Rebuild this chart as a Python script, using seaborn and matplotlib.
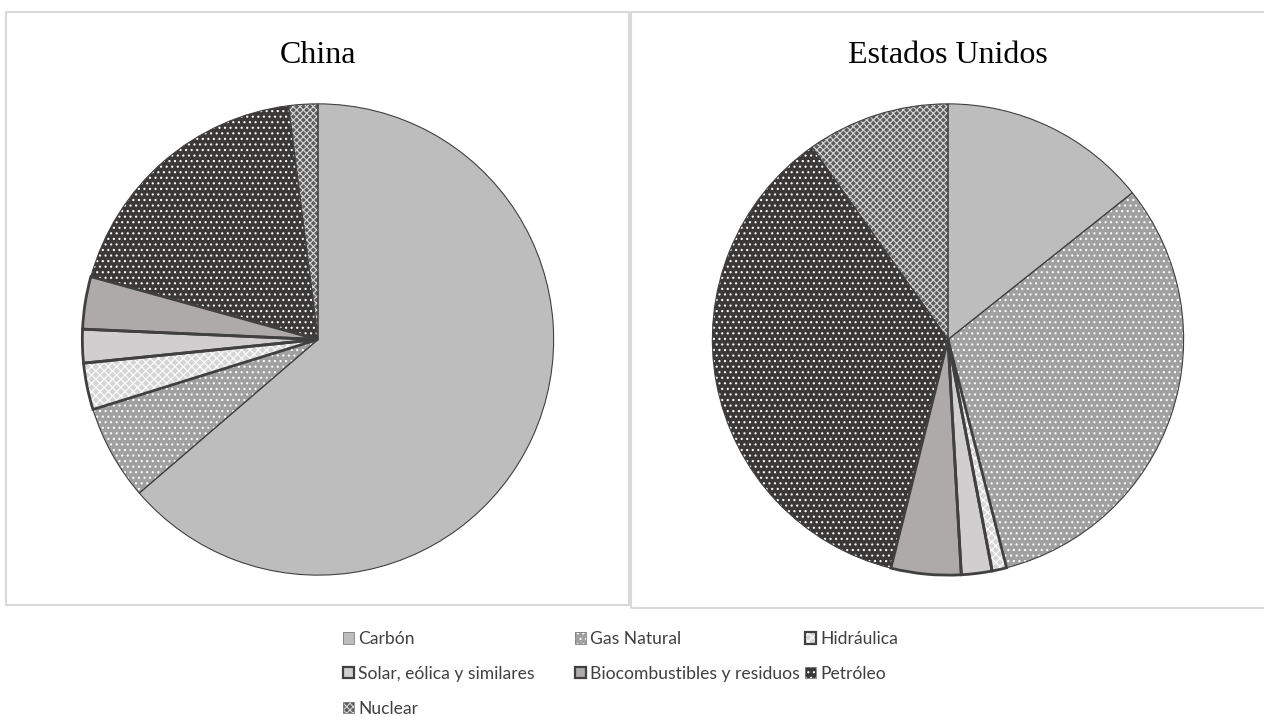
import matplotlib
matplotlib.use("Agg")
import matplotlib.pyplot as plt
from matplotlib.patches import Patch, Rectangle
from matplotlib.legend_handler import HandlerTuple
import seaborn as sns

# ---- data ----
categories = ["Carbón", "Gas Natural", "Hidráulica", "Solar, eólica y similares",
              "Biocombustibles y residuos", "Petróleo", "Nuclear"]
china_values = [63.7, 6.5, 3.2, 2.3, 3.6, 18.7, 2.0]
usa_values = [14.3, 31.7, 1.0, 2.1, 4.8, 36.3, 9.8]
panel_titles = ["China", "Estados Unidos"]

# ---- styles ----
face_colors = sns.color_palette(["#bdbdbd", "#a0a0a0", "#d6d6d6", "#d0cece",
                                 "#aeaaaa", "#3b3838", "#5e5e5e"])
hatches = [None, "...", "xxxx", None, None, "...", "xxxxx"]
hatch_colors = ["#bdbdbd", "white", "white", "#d0cece", "#aeaaaa", "white", "#d8d8d8"]
edge_widths = [0.8, 0.8, 2.0, 2.0, 2.0, 0.8, 0.8]
edge_color = "#404040"

sns.set_theme(style="white")
plt.rcParams["hatch.linewidth"] = 0.8

W, H = 1264, 720
fig = plt.figure(figsize=(W / 100, H / 100), dpi=100)
fig.patch.set_facecolor("white")

# panel boxes
fig.patches.append(Rectangle((6 / W, 1 - 605 / H), 623 / W, 593 / H, transform=fig.transFigure,
                             fill=False, edgecolor="#d9d9d9", linewidth=1.5, zorder=0))
fig.patches.append(Rectangle((631 / W, 1 - 608 / H), 640 / W, 596 / H, transform=fig.transFigure,
                             fill=False, edgecolor="#d9d9d9", linewidth=1.5, zorder=0))

R = 238
cy = 339.5
for cx, vals, title in [(318, china_values, panel_titles[0]), (948, usa_values, panel_titles[1])]:
    ax = fig.add_axes([(cx - R) / W, (H - cy - R) / H, 2 * R / W, 2 * R / H])
    wedges, _ = ax.pie(vals, colors=face_colors, startangle=90, counterclock=False,
                       hatch=hatches, wedgeprops=dict(linewidth=0))
    for w, hc in zip(wedges, hatch_colors):
        w.set_edgecolor(hc)
        w.set_linewidth(0)
    outl, _ = ax.pie(vals, startangle=90, counterclock=False,
                     wedgeprops=dict(facecolor="none", edgecolor=edge_color))
    for w, lw in zip(outl, edge_widths):
        w.set_facecolor("none")
        w.set_linewidth(lw)
    ax.set_xlim(-1.01, 1.01)
    ax.set_ylim(-1.01, 1.01)
    ax.set_aspect("equal")
    ax.axis("off")
    fig.text(cx / W, 1 - 63 / H, title, ha="center", va="baseline",
             family="Liberation Serif", fontsize=23, color="black")

# legend handles
handles = []
for i in range(len(categories)):
    base = Patch(facecolor=face_colors[i], hatch=hatches[i], edgecolor=hatch_colors[i], linewidth=0)
    lw = 1.6 if edge_widths[i] > 1 else 0.6
    ec = edge_color if edge_widths[i] > 1 else "#7f7f7f"
    frame = Patch(facecolor="none", edgecolor=ec, linewidth=lw)
    handles.append((base, frame))

columns = [[0, 3, 6], [1, 4], [2, 5]]
col_x = [343, 575, 805]
for xs, idx in zip(col_x, columns):
    fig.legend([handles[i] for i in idx], [categories[i] for i in idx],
               handler_map={tuple: HandlerTuple(ndivide=1)},
               loc="upper left", bbox_to_anchor=(xs / W, 1 - 631 / H),
               frameon=False, borderpad=0, borderaxespad=0,
               prop=dict(family="Lato", size=12.6),
               handlelength=0.63, handleheight=0.63, handletextpad=0.25,
               labelspacing=1.08, labelcolor="#404040")

fig.savefig("out.png", dpi=100, facecolor="white")
